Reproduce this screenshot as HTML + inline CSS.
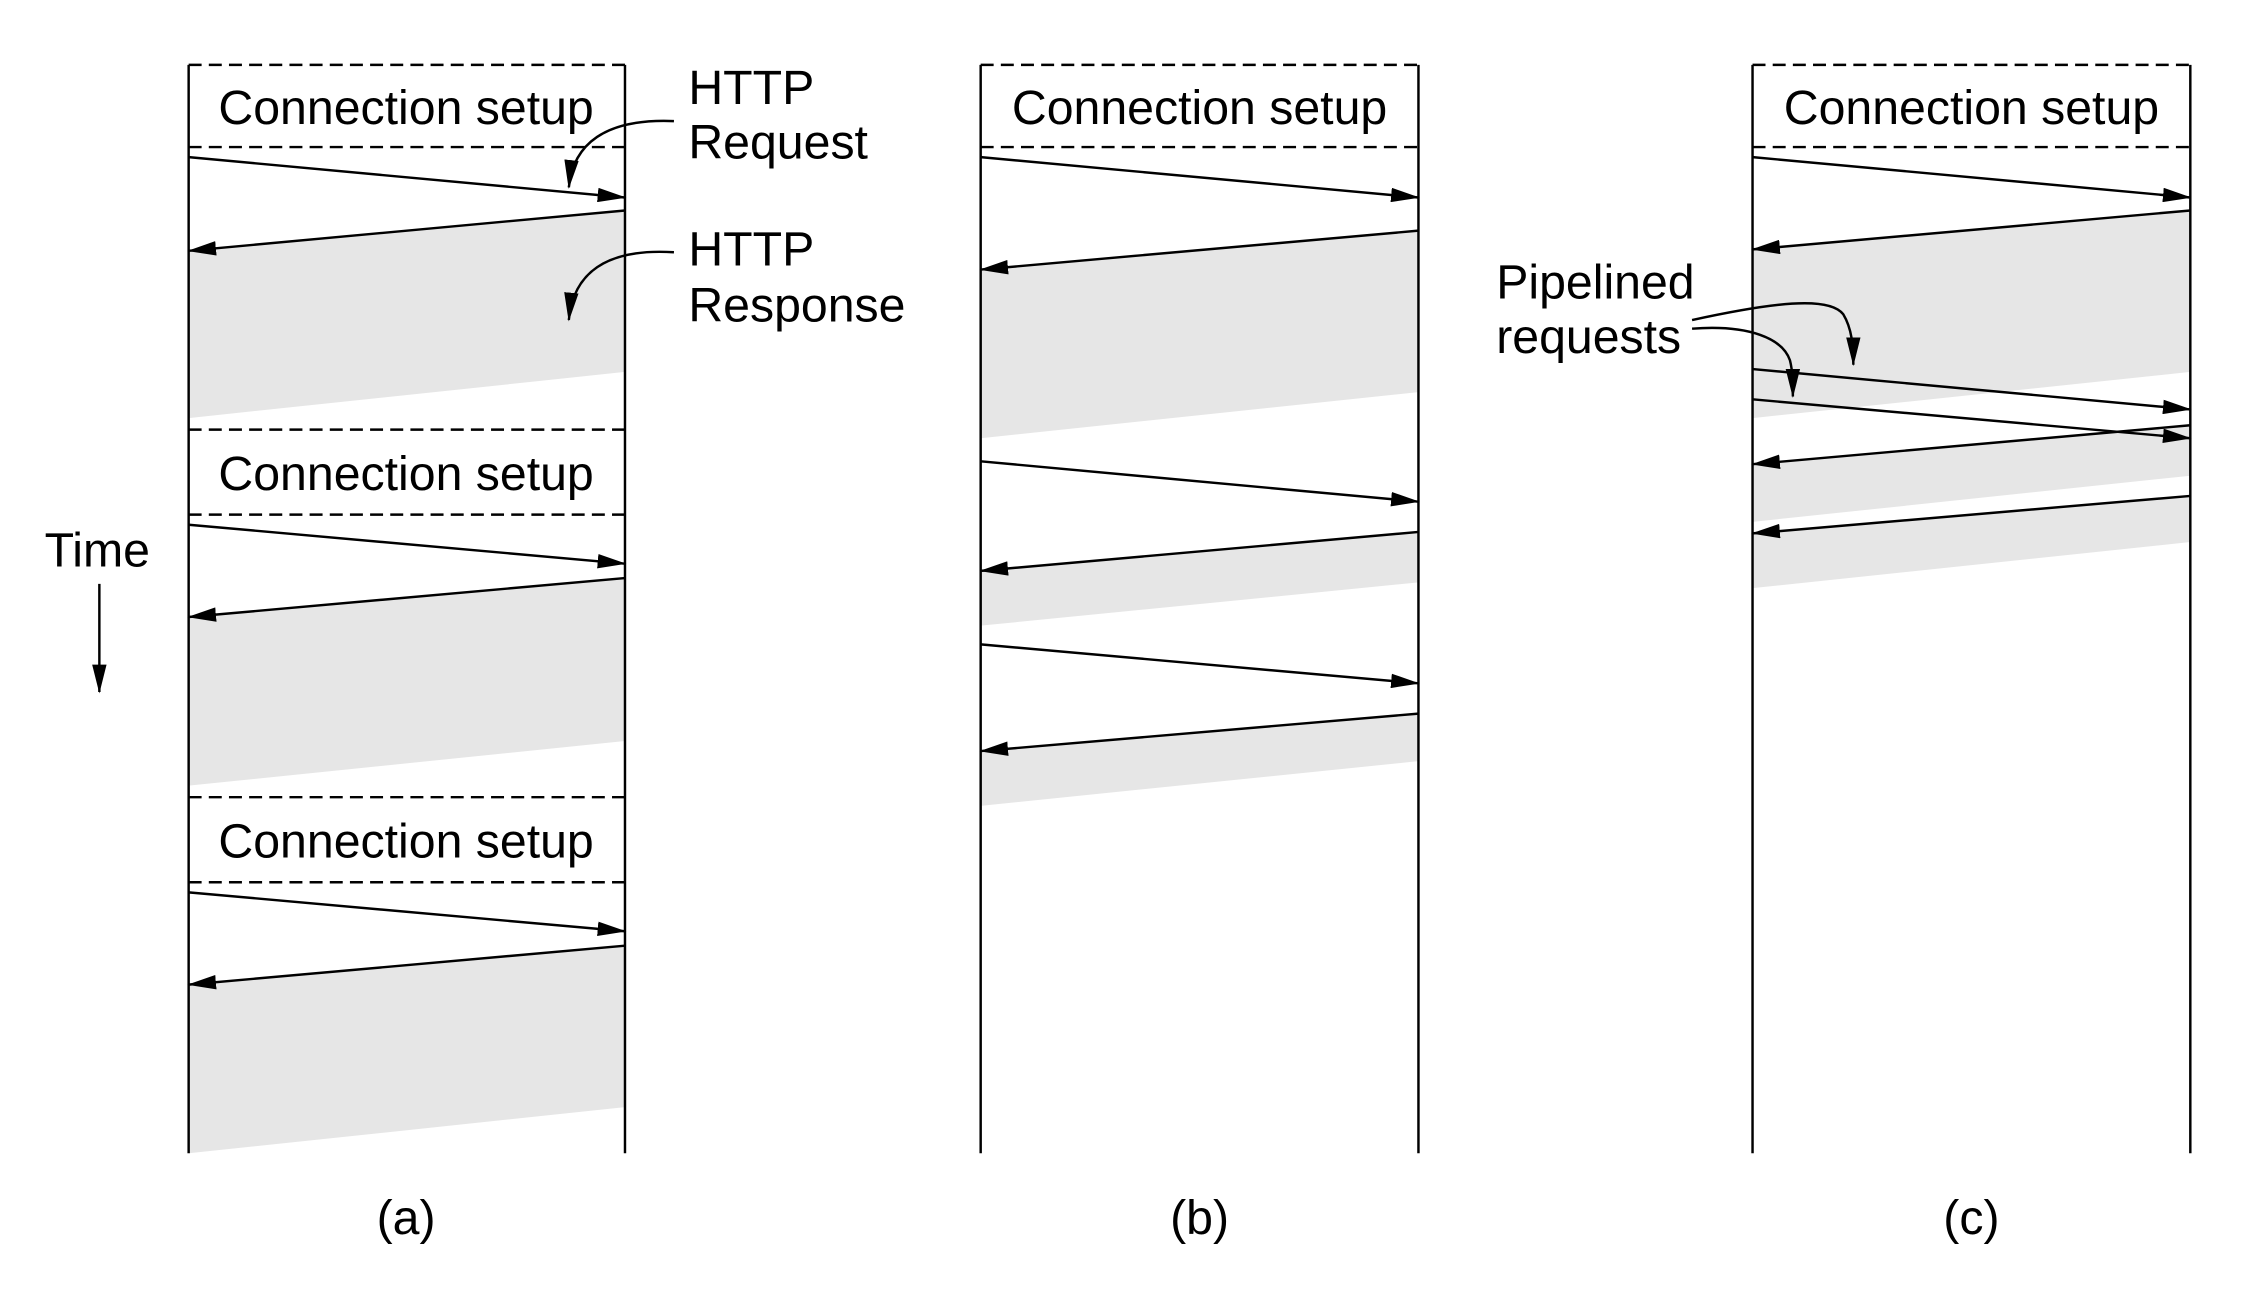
<!DOCTYPE html>
<html><head><meta charset="utf-8"><style>html,body{margin:0;padding:0;background:#fff}svg{display:block}</style></head><body>
<svg width="2258" height="1296" viewBox="0 0 1568 899" preserveAspectRatio="none" xmlns="http://www.w3.org/2000/svg" font-family="Liberation Sans, Arial, sans-serif" font-size="33.5">
<defs><marker id="a" markerWidth="10" markerHeight="8" refX="10" refY="4" orient="auto" markerUnits="userSpaceOnUse" viewBox="0 0 10 8"><path d="M0,0L10,4L0,8z" fill="#000"/></marker>
<marker id="b" markerWidth="20" markerHeight="10" refX="19" refY="5" orient="auto" markerUnits="userSpaceOnUse" viewBox="0 0 20 10"><path d="M0,0L20,5L0,10z" fill="#000"/></marker></defs>
<g fill="#e6e6e6">
<path d="M131,174L434,146L434,258L131,290z"/><path d="M131,428L434,401L434,514L131,545z"/><path d="M131,683L434,656L434,768L131,800z"/>
<path d="M681,187L985,160L985,272L681,304z"/><path d="M681,396L985,369L985,404L681,434z"/><path d="M681,521L985,495L985,528L681,559z"/>
<path d="M1217,173L1521,146L1521,258L1217,290z"/><path d="M1217,322L1521,295L1521,330L1217,362z"/><path d="M1217,370L1521,344L1521,376L1217,408z"/>
</g>
<g stroke="#000" stroke-width="1.7" fill="none">
<path d="M131,45V800M434,45V800M681,45V800M985,45V800M1217,45V800M1521,45V800"/>
<g stroke-dasharray="9,5"><path d="M131,45H434M131,102H434M131,298H434M131,357H434M131,553H434M131,612H434M681,45H985M681,102H985M1217,45H1521M1217,102H1521"/></g>
<g marker-end="url(#b)">
<path d="M131,109L434,137"/><path d="M434,146L131,174"/><path d="M131,364L434,391"/><path d="M434,401L131,428"/><path d="M131,619L434,646"/><path d="M434,656L131,683"/>
<path d="M681,109L985,137"/><path d="M985,160L681,187"/><path d="M681,320L985,348"/><path d="M985,369L681,396"/><path d="M681,447L985,474"/><path d="M985,495L681,521"/>
<path d="M1217,109L1521,137"/><path d="M1521,146L1217,173"/><path d="M1217,256L1521,284"/><path d="M1217,277L1521,304"/><path d="M1521,295L1217,322"/><path d="M1521,344L1217,370"/>
<path d="M69,405V480"/>
</g>
<g marker-end="url(#b)">
<path d="M468,84C420,82 398,100 395,130"/><path d="M468,175C420,172 398,190 395,222"/>
<path d="M1175,222C1230,210 1270,205 1280,218C1286,228 1287,240 1287,253"/>
<path d="M1175,228C1215,225 1238,235 1243,250C1245,258 1245,266 1245,275"/>
</g>
</g>
<g fill="#000">
<text x="282" y="86" text-anchor="middle">Connection setup</text><text x="282" y="340" text-anchor="middle">Connection setup</text><text x="282" y="595" text-anchor="middle">Connection setup</text>
<text x="833" y="86" text-anchor="middle">Connection setup</text><text x="1369" y="86" text-anchor="middle">Connection setup</text>
<text x="478" y="72">HTTP</text><text x="478" y="110">Request</text><text x="478" y="184">HTTP</text><text x="478" y="223">Response</text>
<text x="31" y="393">Time</text>
<text x="1039" y="207">Pipelined</text><text x="1039" y="245">requests</text>
<text x="282" y="856" text-anchor="middle">(a)</text><text x="833" y="856" text-anchor="middle">(b)</text><text x="1369" y="856" text-anchor="middle">(c)</text>
</g>
</svg>
</body></html>
